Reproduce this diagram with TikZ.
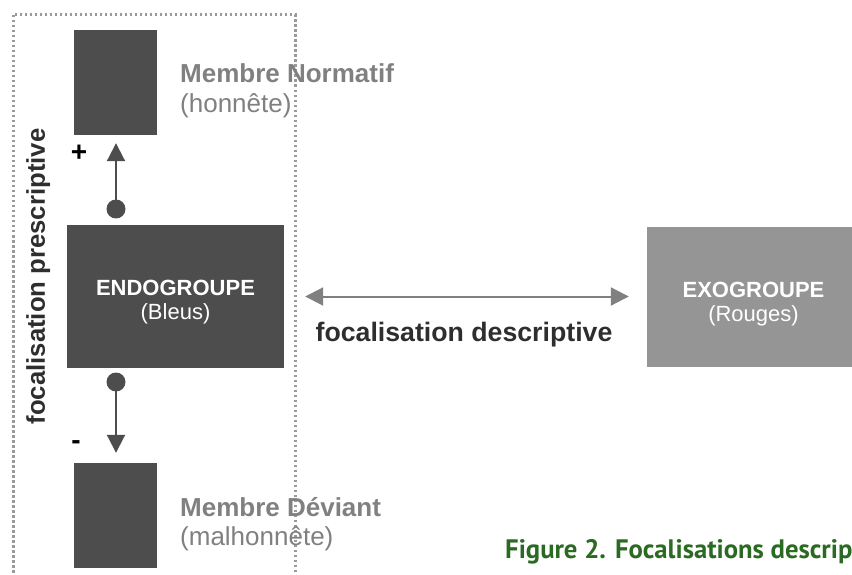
\documentclass[tikz,border=0pt]{standalone}
\usepackage{fontspec}
\setmainfont{Liberation Sans}
\newfontfamily\capfont{PT Sans}
\usetikzlibrary{arrows.meta,positioning}
\definecolor{darkbox}{HTML}{4D4D4D}
\definecolor{lightbox}{HTML}{959595}
\definecolor{labelgray}{HTML}{808080}
\definecolor{framegray}{HTML}{9A9A9A}
\definecolor{textdark}{HTML}{2E2E2E}
\definecolor{capgreen}{HTML}{2B6A22}

\begin{document}
\begin{tikzpicture}[x=1pt,y=-1pt,
	grpbox/.style={fill=darkbox, inner sep=0pt},
	grptext/.style={text=white, align=center, inner sep=0pt, font=\fontsize{22}{24}\selectfont},
	membox/.style={fill=darkbox, inner sep=0pt, minimum width=83pt, minimum height=105pt},
	memtitle/.style={anchor=base west, inner sep=0pt, text=labelgray, font=\bfseries\fontsize{26}{30}\selectfont},
	memsub/.style={anchor=base west, inner sep=0pt, text=labelgray, font=\fontsize{26}{30}\selectfont},
	sign/.style={inner sep=0pt, font=\bfseries\fontsize{28}{30}\selectfont},
	pin/.style={circle, fill=darkbox, inner sep=0pt, minimum size=19pt},
	tip/.style={line width=2pt, -{Triangle[width=18pt,length=18pt]}}]
	\useasboundingbox (0,0) rectangle (852,575);
	\clip (0,0) rectangle (852,575);
	% cadre de la focalisation prescriptive
	\draw[framegray, line width=3pt, dash pattern=on 2.5pt off 2.5pt] (13,15) rectangle (295,620);
	\node[rotate=90, anchor=base, text=textdark, font=\bfseries\fontsize{25.7}{30}\selectfont] (presc) at (45,276.5) {focalisation prescriptive};
	% groupes
	\node[grpbox, minimum width=217pt, minimum height=143pt] (endo) at (175.5,296.5) {};
	\node[grpbox, fill=lightbox, minimum width=213pt, minimum height=140pt] (exo) at (753.5,297) {};
	\node[grptext] (endotext) at ([yshift=-6pt]endo.center) {\textbf{ENDOGROUPE}\\(Bleus)};
	\node[grptext] (exotext) at ([yshift=-7pt]exo.center) {\textbf{EXOGROUPE}\\(Rouges)};
	% membres
	\node[membox] (norm) at (115.5,82.5) {};
	\node[membox] (dev) at (115.5,515.5) {};
	\node[memtitle] (normtitle) at (180,83) {Membre Normatif};
	\node[memsub] (normsub) at (180,113) {(honnête)};
	\node[memtitle] (devtitle) at (180,516) {Membre Déviant};
	\node[memsub] (devsub) at (180,545) {(malhonnête)};
	\node[sign] (plus) at (79,153) {+};
	\node[sign] (minus) at (76,445) {-};
	% fleches
	\node[pin] (pinup) at (116,209) {};
	\node[pin] (pindown) at (116,382) {};
	\draw[tip, darkbox, shorten >=8pt] (pinup.center) -- (pinup.center |- norm.south);
	\draw[tip, darkbox, shorten >=10pt] (pindown.center) -- (pindown.center |- dev.north);
	\draw[line width=2pt, labelgray, {Triangle[width=18pt,length=18pt]}-{Triangle[width=18pt,length=18pt]}, shorten <=21pt, shorten >=18pt] (endo.east) -- (exo.west |- endo.east);
	\node[anchor=base, text=textdark, font=\bfseries\fontsize{26.7}{30}\selectfont] (desc) at (464,341) {focalisation descriptive};
	% legende
	\node[anchor=base west, inner sep=0pt, text=capgreen, font=\capfont\bfseries\fontsize{26.7}{30}\selectfont] (caption) at (505,558) {Figure 2. Focalisations descrip};
\end{tikzpicture}
\end{document}
